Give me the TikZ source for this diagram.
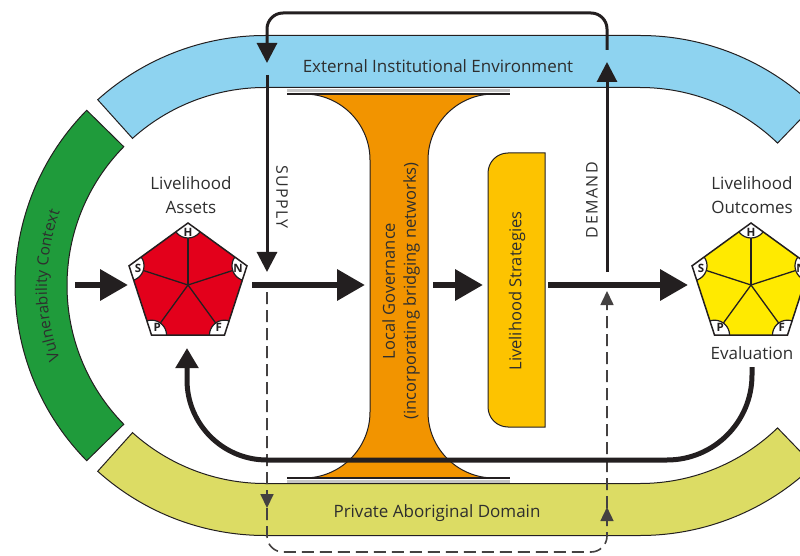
\documentclass[tikz,border=0pt]{standalone}
\usepackage{fontspec}
\setmainfont{Open Sans}
\newfontfamily\capsfont[LetterSpace=9]{Open Sans}
\usetikzlibrary{arrows.meta,calc,decorations.text,decorations.markings}

\definecolor{ink}{HTML}{231F20}
\definecolor{txt}{HTML}{2E2E2E}
\definecolor{bandblue}{HTML}{8ED3F0}
\definecolor{bandgreen}{HTML}{1F9B3B}
\definecolor{bandolive}{HTML}{DCDC64}
\definecolor{govorange}{HTML}{F29400}
\definecolor{stratamber}{HTML}{FDC300}
\definecolor{assetred}{HTML}{E3001B}
\definecolor{outcomeyellow}{HTML}{FFEA00}

\tikzset{
  band/.style={draw=ink, line width=1pt},
  txtlabel/.style={text=txt, font=\fontsize{17}{24}\selectfont, align=center, inner sep=0pt},
  capslabel/.style={text=txt, font=\capsfont\fontsize{16}{18}\selectfont, inner sep=0pt},
  bigarrow/.style={draw=ink, line width=6.5pt, -{Triangle[length=28pt,width=30pt]}},
  flowarrow/.style={draw=ink, line width=3pt, -{Triangle[length=20pt,width=20pt]}},
  loopline/.style={draw=ink, line width=3pt, rounded corners=16pt, -{Triangle[length=20pt,width=20pt]}},
  feedback/.style={draw=ink, line width=5pt, -{Triangle[length=20pt,width=22pt]}},
  dashline/.style={draw=ink!85, line width=1.6pt, dash pattern=on 12pt off 6pt, rounded corners=16pt},
  smalltip/.style={-{Triangle[length=14pt,width=13pt]}},
  pentline/.style={draw=ink, line width=1.5pt, line join=miter},
  spoke/.style={draw=ink, line width=1.3pt},
  cornerarc/.style={draw=ink, line width=1.2pt, fill=white},
  capletter/.style={text=ink, font=\fontsize{11.5}{11.5}\selectfont\bfseries, inner sep=0pt},
}

% pentagon of the five capitals: #1 centre coordinate, #2 fill colour
\newcommand{\capitalpent}[2]{%
  \foreach \ang [count=\i] in {90,162,234,306,18}{
    \coordinate (#1-\i) at ($(#1)+(\ang:62pt)$);
  }
  \fill[#2] (#1-1)--(#1-2)--(#1-3)--(#1-4)--(#1-5)--cycle;
  \foreach \i in {1,...,5}{\draw[spoke] (#1)--(#1-\i);}
  \begin{scope}
    \clip (#1-1)--(#1-2)--(#1-3)--(#1-4)--(#1-5)--cycle;
    \foreach \i in {1,...,5}{\draw[cornerarc] (#1-\i) circle (15pt);}
  \end{scope}
  \foreach \l [count=\i] in {H,S,P,F,N}{
    \node[capletter] (#1-l\i) at ($(#1-\i)!9.5pt!(#1)$) {\l};
  }
  \draw[pentline] (#1-1)--(#1-2)--(#1-3)--(#1-4)--(#1-5)--cycle;
}

\begin{document}
\begin{tikzpicture}[x=1pt,y=1pt]
\useasboundingbox (0,0) rectangle (800,555);

% centres of the two ends of the ring
\coordinate (L) at (265,269.5);
\coordinate (R) at (640,269.5);

% ---- outer ring -------------------------------------------------------
% external institutional environment (top)
\path[band, fill=bandblue]
  ($(R)+(46:250pt)$) arc[start angle=46, end angle=90, radius=250pt]
  -- ($(L)+(90:250pt)$) arc[start angle=90, end angle=132, radius=250pt]
  -- ($(L)+(132:198pt)$) arc[start angle=132, end angle=90, radius=198pt]
  -- ($(R)+(90:198pt)$) arc[start angle=90, end angle=46, radius=198pt]
  -- cycle;
% vulnerability context (left)
\path[band, fill=bandgreen]
  ($(L)+(135.5:250pt)$) arc[start angle=135.5, end angle=224.5, radius=250pt]
  -- ($(L)+(224.5:198pt)$) arc[start angle=224.5, end angle=135.5, radius=198pt]
  -- cycle;
% private aboriginal domain (bottom)
\path[band, fill=bandolive]
  ($(L)+(228:250pt)$) arc[start angle=228, end angle=270, radius=250pt]
  -- ($(R)+(270:250pt)$) arc[start angle=270, end angle=314, radius=250pt]
  -- ($(R)+(314:198pt)$) arc[start angle=314, end angle=270, radius=198pt]
  -- ($(L)+(270:198pt)$) arc[start angle=270, end angle=228, radius=198pt]
  -- cycle;

\node[txtlabel] (extenv) at (438,489) {External Institutional Environment};
\node[txtlabel] (private) at (437,42) {Private Aboriginal Domain};
\path[decorate, decoration={text along path, text align=center,
      text={|\fontsize{15.5}{15.5}\selectfont\color{txt}|Vulnerability Context}}]
  ($(L)+(216:218pt)$) arc[start angle=216, end angle=144, radius=218pt];

% ---- local governance (I-beam) -----------------------------------------
\draw[gray!45, line width=3pt] (287,464.5) -- (510,464.5);
\draw[gray!45, line width=3pt] (287,73.5) -- (510,73.5);
\path[draw=ink, line width=1pt, fill=govorange]
  (304,461) -- (494,461) arc[start angle=90, end angle=180, radius=66pt]
  -- (428,143) arc[start angle=180, end angle=270, radius=66pt]
  -- (304,77) arc[start angle=270, end angle=360, radius=66pt]
  -- (370,395) arc[start angle=0, end angle=90, radius=66pt]
  -- cycle;
\draw[ink, line width=1.4pt] (287,461) -- (510,461);
\draw[ink, line width=1.4pt] (287,77) -- (510,77);
\node[txtlabel, font=\fontsize{16.5}{21}\selectfont, rotate=90] (governance) at (401,264)
  {Local Governance\\(incorporating bridging networks)};

% ---- livelihood strategies ---------------------------------------------
\path[draw=ink, line width=1pt, fill=stratamber]
  (545,128) -- (545,402) -- (508,402) arc[start angle=90, end angle=180, radius=20pt]
  -- (488,148) arc[start angle=180, end angle=270, radius=20pt] -- cycle;
\node[txtlabel, font=\fontsize{16.5}{18}\selectfont, rotate=90] (strategies) at (517,264)
  {Livelihood Strategies};

% ---- asset and outcome pentagons ---------------------------------------
\coordinate (assets) at (188,270);
\coordinate (outcomes) at (751,270);
\capitalpent{assets}{assetred}
\capitalpent{outcomes}{outcomeyellow}
\node[txtlabel] (assetslbl) at (191,360) {Livelihood\\Assets};
\node[txtlabel] (outcomeslbl) at (752,360) {Livelihood\\Outcomes};
\node[txtlabel] (evaluation) at (752,202) {Evaluation};

% ---- main flow ---------------------------------------------------------
\coordinate (vulnout) at (75,270);
\coordinate (assetsin) at (128,270);
\coordinate (assetsout) at (252,270);
\coordinate (govin) at (365,270);
\coordinate (govout) at (433,270);
\coordinate (stratin) at (483,270);
\coordinate (stratout) at (548,270);
\coordinate (outcomesin) at (688,270);
\draw[bigarrow] (vulnout) -- (assetsin);
\draw[bigarrow] (assetsout) -- (govin);
\draw[bigarrow] (govout) -- (stratin);
\draw[bigarrow] (stratout) -- (outcomesin);

% ---- supply and demand -------------------------------------------------
\coordinate (demandfoot) at (607,283);
\coordinate (demandtip) at (607,493);
\coordinate (loopstart) at (607,505);
\coordinate (looptip) at (267,492);
\coordinate (supplytop) at (267,480);
\coordinate (supplytip) at (267,283);
\draw[flowarrow] (demandfoot) -- (demandtip);
\draw[loopline] (loopstart) -- (607,542) -- (267,542) -- (looptip);
\draw[flowarrow] (supplytop) -- (supplytip);
\node[capslabel, rotate=-90] (supply) at (282,358) {SUPPLY};
\node[capslabel, rotate=90] (demand) at (592,355) {DEMAND};

% ---- private exchange (dashed) -----------------------------------------
\coordinate (privstart) at (267,263);
\coordinate (privend) at (607,264);
\draw[dashline, smalltip, postaction={decorate}, decoration={markings,
      mark=at position 0.255 with {\arrow{Triangle[length=14pt,width=13pt]}},
      mark=at position 0.745 with {\arrow{Triangle[length=14pt,width=13pt]}}}]
  (privstart) -- (267,3) -- (607,3) -- (privend);

% ---- feedback from evaluation to assets -------------------------------
\coordinate (evalout) at (752,188);
\coordinate (assetsfoot) at (187,207);
\draw[feedback] (evalout) -- (752,180) arc[start angle=0, end angle=-90, radius=85pt]
  -- (267,95) arc[start angle=270, end angle=180, radius=80pt] -- (assetsfoot);

\end{tikzpicture}
\end{document}
